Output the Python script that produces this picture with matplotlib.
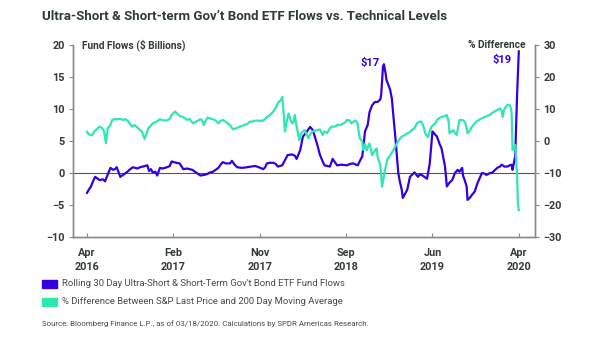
import matplotlib
matplotlib.use("Agg")
import matplotlib.pyplot as plt
from matplotlib.patches import Rectangle

plt.rcParams['font.family'] = ['Roboto', 'DejaVu Sans']

# months since Apr 2016 -> rolling 30 day flows ($bn)
flow_m = [0.0, 0.2, 0.4, 0.7, 0.9, 1.1, 1.4, 1.8, 2.0, 2.2, 2.6, 2.9, 3.1, 3.3, 3.7, 4.0, 4.4, 4.8,
          5.1, 5.6, 5.9, 6.2, 6.7, 6.9, 7.1, 7.3, 7.6, 7.8, 8.1, 8.4, 8.9, 9.2, 9.4, 9.9, 10.3, 10.7,
          11.1, 11.7, 12.1, 12.6, 13.0, 13.3, 13.7, 14.0, 14.3, 14.6, 14.9, 15.1, 15.4, 15.9, 16.1,
          16.4, 16.7, 17.2, 17.8, 18.2, 18.7, 19.1, 19.6, 19.8, 20.0, 20.3, 20.7, 21.0, 21.2, 21.7,
          22.0, 22.3, 22.8, 23.1, 23.3, 23.7, 24.0, 24.3, 24.8, 25.1, 25.6, 25.9, 26.2, 26.4, 27.0,
          27.3, 27.8, 28.3, 28.9, 29.2, 29.6, 29.9, 30.1, 30.3, 30.6, 30.9, 31.2, 31.4, 31.7, 32.0,
          32.3, 32.6, 32.7, 32.9, 33.0, 33.2, 33.3, 33.7, 33.9, 34.0, 34.3, 34.6, 34.8, 35.0, 35.1,
          35.3, 35.6, 35.9, 36.2, 36.4, 36.8, 37.0, 37.3, 37.8, 38.1, 38.4, 38.7, 38.9, 39.2, 39.4,
          39.8, 40.0, 40.3, 40.6, 40.9, 41.2, 41.4, 41.7, 41.8, 42.0, 42.2, 42.3, 42.6, 42.8, 43.1,
          43.4, 43.9, 44.2, 44.4, 44.8, 45.0, 45.3, 45.6, 45.9, 46.1, 46.4, 46.7, 47.0, 47.2, 47.3,
          47.6, 47.8, 48.0]
flows = [-3.1, -2.6, -2.2, -1.2, -0.6, -0.8, -1.1, -1.0, -1.3, -0.6, 0.8, 0.5, 0.6, 0.9, -0.6, -0.3,
         0.1, 0.6, 0.9, 0.7, 0.9, 1.0, 1.2, 0.3, 0.6, 0.1, 0.2, -0.4, 0.8, 0.7, 0.9, 1.1, 1.8, 1.6,
         1.5, 0.6, 0.7, 0.5, 0.1, -0.4, -0.3, -0.2, 0.1, 0.2, 0.5, 0.8, 1.4, 1.7, 1.5, 1.5, 1.9, 1.3,
         0.9, 0.8, 0.9, 1.0, 1.1, 0.9, 0.6, 0.9, 1.5, 1.6, 1.6, 1.4, 1.0, 1.2, 2.0, 2.8, 2.9, 2.7,
         2.2, 3.6, 5.7, 6.2, 7.2, 6.7, 4.4, 2.8, 1.8, 1.2, 1.0, 2.2, 1.2, 1.3, 1.2, 1.4, 1.5, 1.3,
         1.2, 1.8, 2.6, 6.5, 7.5, 9.5, 10.6, 11.1, 11.1, 11.5, 12.2, 16.6, 17.0, 15.5, 14.5, 13.0,
         11.5, 9.8, 5.2, 0.0, -1.5, -2.7, -3.9, -3.4, -2.6, -0.6, -0.2, 0.1, -0.6, -0.2, -0.4, -0.9,
         1.5, 6.5, 6.0, 5.7, 4.5, 3.9, 1.0, -2.1, -1.5, -1.1, 0.0, 0.5, 0.2, 0.8, -0.4, -1.2, -2.1,
         -4.2, -3.8, -3.4, -2.9, -1.6, 0.0, -0.1, -0.3, 0.0, 0.0, 0.4, 0.8, 1.0, 1.3, 1.0, 1.0, 1.2,
         1.3, 0.5, 2.6, 11.9, 19.0]

# months since Apr 2016 -> % gap between S&P 500 and its 200 day moving average
spx_m = [0.0, 0.2, 0.6, 0.8, 1.1, 1.4, 1.7, 1.9, 2.1, 2.3, 2.6, 2.8, 3.1, 3.3, 3.7, 4.0, 4.3, 4.6,
         4.8, 5.0, 5.3, 5.6, 5.9, 6.1, 6.4, 6.7, 6.8, 7.0, 7.3, 7.7, 8.1, 8.4, 8.9, 9.2, 9.4, 9.8,
         10.0, 10.3, 10.7, 11.1, 11.4, 11.8, 12.1, 12.6, 12.8, 13.0, 13.2, 13.4, 13.7, 14.0, 14.3,
         14.6, 14.8, 15.1, 15.4, 15.9, 16.2, 16.6, 17.0, 17.3, 17.8, 18.1, 18.4, 18.8, 19.2, 19.6,
         20.0, 20.3, 20.7, 21.0, 21.2, 21.6, 21.7, 21.8, 22.0, 22.2, 22.4, 22.7, 22.9, 23.1, 23.3,
         23.6, 23.7, 24.0, 24.2, 24.6, 24.8, 25.0, 25.3, 25.6, 25.9, 26.2, 26.4, 26.7, 27.0, 27.2,
         27.6, 27.8, 28.1, 28.3, 28.7, 28.9, 29.2, 29.4, 29.8, 30.0, 30.1, 30.3, 30.6, 30.7, 30.9,
         31.1, 31.4, 31.7, 32.0, 32.2, 32.3, 32.6, 32.8, 33.1, 33.4, 33.7, 34.0, 34.3, 34.6, 34.8,
         35.0, 35.3, 35.6, 35.9, 36.1, 36.4, 36.7, 37.0, 37.2, 37.4, 37.6, 37.9, 38.1, 38.3, 38.7,
         38.9, 39.2, 39.4, 39.8, 40.0, 40.2, 40.3, 40.7, 40.9, 41.1, 41.4, 41.8, 42.0, 42.2, 42.3,
         42.6, 42.8, 43.1, 43.3, 43.7, 43.9, 44.2, 44.4, 44.8, 45.0, 45.3, 45.6, 45.9, 46.1, 46.2,
         46.4, 46.7, 47.0, 47.1, 47.2, 47.3, 47.6, 47.8, 47.9, 48.0]
spx_gap = [2.9, 2.0, 1.9, 3.0, 3.7, 4.5, 4.0, 3.0, -0.7, 4.0, 5.0, 6.6, 6.9, 6.8, 6.9, 6.6, 6.8, 6.1,
           5.2, 4.5, 5.0, 4.2, 3.4, 3.0, 0.6, 3.0, 4.0, 4.5, 5.5, 6.0, 6.8, 6.5, 6.4, 7.0, 8.1, 9.2,
           8.6, 7.8, 7.5, 6.6, 6.9, 5.5, 6.0, 6.8, 6.5, 5.0, 6.5, 7.3, 7.0, 6.8, 6.4, 5.5, 6.2, 6.6,
           6.0, 5.0, 3.7, 4.0, 4.5, 4.8, 5.3, 6.0, 6.1, 6.4, 6.3, 6.4, 7.5, 8.0, 9.2, 10.5, 11.8,
           13.0, 13.8, 10.8, 3.0, 6.1, 8.6, 6.0, 5.5, 8.1, 4.5, 0.3, 1.9, 3.0, 3.4, 0.9, 2.0, 2.9,
           3.2, 3.4, 3.6, 1.9, 3.0, 2.5, 4.0, 4.5, 4.5, 5.0, 5.0, 5.2, 5.8, 6.6, 6.4, 5.5, 6.4, 6.0,
           5.0, 1.0, -0.2, -2.8, -1.0, -2.9, -0.8, -4.4, -3.0, -2.3, -5.0, -7.5, -14.3, -9.4, -5.6,
           -4.5, -3.1, -1.5, 0.0, 0.8, 1.4, 1.8, 2.4, 2.8, 3.4, 4.0, 5.6, 6.1, 6.0, 4.5, 2.4, 1.2,
           3.0, 4.5, 5.5, 6.6, 7.2, 7.5, 7.8, 8.1, 6.0, 2.4, 3.4, 2.5, 1.9, 6.6, 6.5, 6.0, 4.0, 2.4,
           3.5, 4.5, 5.5, 6.1, 6.8, 7.1, 7.5, 7.7, 8.2, 8.7, 9.2, 9.7, 10.2, 9.5, 7.5, 10.0, 11.2,
           11.2, 10.5, 8.7, -2.8, -1.2, -10.1, -19.5, -21.6]

tick_pos = [0, 9.6, 19.2, 28.8, 38.4, 48]
tick_labels = ['Apr\n2016', 'Feb\n2017', 'Nov\n2017', 'Sep\n2018', 'Jun\n2019', 'Apr\n2020']

BLUE = '#3300e0'
TEAL = '#2fe6b4'
DARK = '#333a3a'
GREY = '#8a8a8a'

fig = plt.figure(figsize=(6.02, 3.48), dpi=100)
ax = fig.add_axes([73 / 602, 1 - 237 / 348, 462 / 602, 192 / 348])
ax2 = ax.twinx()

ax.plot(flow_m, flows, color=BLUE, lw=1.6, solid_joinstyle='round', zorder=3)
ax2.plot(spx_m, spx_gap, color=TEAL, lw=1.6, solid_joinstyle='round', zorder=2)
ax.axhline(0, color='#555555', lw=0.8, zorder=1)

ax.set_xlim(-1.56, 49.8)
ax.set_ylim(-10, 20)
ax2.set_ylim(-30, 30)
ax.set_yticks([-10, -5, 0, 5, 10, 15, 20])
ax2.set_yticks([-30, -20, -10, 0, 10, 20, 30])
ax.set_xticks(tick_pos)
ax.set_xticklabels(tick_labels)

for a in (ax, ax2):
    a.spines['top'].set_visible(False)
    for s in ('left', 'right', 'bottom'):
        a.spines[s].set_color(GREY)
        a.spines[s].set_linewidth(1.0)
    a.tick_params(axis='y', colors=GREY, length=3, width=0.8, labelcolor=DARK, labelsize=7.8, pad=3)
    for lab in a.get_yticklabels():
        lab.set_fontweight('bold')
ax.tick_params(axis='x', direction='in', length=3, width=0.8, colors=GREY, labelcolor=DARK,
               labelsize=7.8, pad=8)
for lab in ax.get_xticklabels():
    lab.set_fontweight('bold')
    lab.set_linespacing(1.45)

ax.text(0.02, 1.0, 'Fund Flows ($ Billions)', transform=ax.transAxes, ha='left', va='center',
        fontsize=7.3, fontweight='bold', color=DARK)
ax.text(0.98, 1.0, '% Difference', transform=ax.transAxes, ha='right', va='center',
        fontsize=7.3, fontweight='bold', color=DARK)

# call out the two flow peaks
i17 = flows.index(17.0)
ax.annotate('$17', (flow_m[i17], flows[i17]), xytext=(-3, 1), textcoords='offset points',
            ha='right', va='center', fontsize=8, fontweight='bold', color=BLUE)
ax.annotate('$19', (flow_m[-1], flows[-1]), xytext=(-5, -6), textcoords='offset points',
            ha='right', va='center', fontsize=8, fontweight='bold', color=BLUE)

fig.text(42 / 602, 1 - 17 / 348, "Ultra-Short & Short-term Gov\u2019t Bond ETF Flows vs. Technical Levels",
         ha='left', va='center', fontsize=9.5, fontweight='bold', color='#2f3b3b')

legend_items = [(BLUE, "Rolling 30 Day Ultra-Short & Short-Term Gov't Bond ETF Fund Flows"),
                (TEAL, '% Difference Between S&P Last Price and 200 Day Moving Average')]
for k, (col, txt) in enumerate(legend_items):
    yc = 1 - (284 + 18 * k) / 348
    fig.patches.append(Rectangle((42 / 602, yc - 4 / 348), 15 / 602, 8 / 348,
                                 transform=fig.transFigure, color=col))
    fig.text(62 / 602, yc, txt, ha='left', va='center', fontsize=6.8, color='#4a4a4a')

fig.text(42 / 602, 1 - 324 / 348,
         'Source: Bloomberg Finance L.P., as of 03/18/2020. Calculations by SPDR Americas Research.',
         ha='left', va='center', fontsize=5.7, color='#4a4a4a')

fig.savefig('out.png', dpi=100, facecolor='white')
